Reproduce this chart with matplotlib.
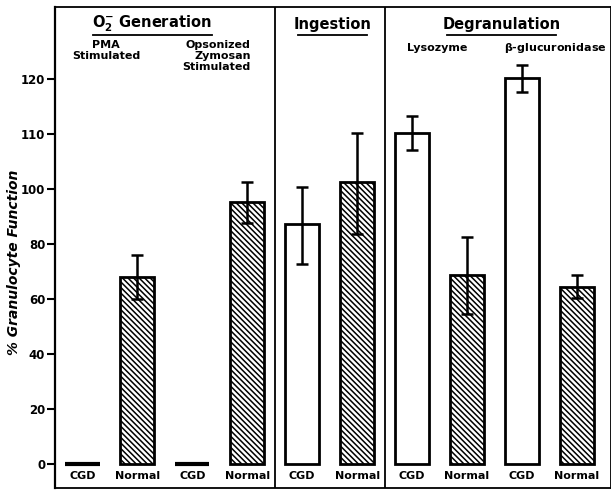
import numpy as np
import matplotlib
matplotlib.use("Agg")
import matplotlib.pyplot as plt
from matplotlib.transforms import blended_transform_factory

# granulocyte function, % of control
labels = ["CGD", "Normal", "CGD", "Normal", "CGD", "Normal",
          "CGD", "Normal", "CGD", "Normal"]
values = [0, 68.0, 0, 95.1, 87.1, 101.2, 110.1, 68.6, 120.1, 64.5]
err_lo = [np.nan, 8.1, np.nan, 7.3, 14.2, 17.6, 3.0, 14.0, 2.5, 4.0]
err_hi = [np.nan, 8.0, np.nan, 6.1, 13.3, 8.9, 3.2, 13.8, 2.5, 4.1]
hatched = [False, True, False, True, False, True, False, True, False, True]
yticks = [0, 20, 40, 60, 80, 100, 110, 120]

plt.rcParams['font.family'] = ['DejaVu Sans']
plt.rcParams['hatch.linewidth'] = 1.1

# axis is stretched 2x above 100
def fwd(y):
    y = np.asarray(y, dtype=float)
    return np.where(y <= 100, y, 100 + 2 * (y - 100))

def inv(v):
    v = np.asarray(v, dtype=float)
    return np.where(v <= 100, v, 100 + (v - 100) / 2)

fig = plt.figure(figsize=(6.11, 4.90), dpi=100)
ax = fig.add_axes([55 / 611, 2 / 490, 556 / 611, 481 / 490])
ax.set_yscale('function', functions=(fwd, inv))

x = np.arange(len(values))
for xi, v, h in zip(x, values, hatched):
    ax.bar(xi, v, width=0.62, facecolor='white', edgecolor='black',
           linewidth=2.0 if v > 0 else 3.0,
           hatch='\\\\\\\\\\\\' if h else None, zorder=2)
ax.errorbar(x, values, yerr=[err_lo, err_hi], fmt='none', ecolor='black',
            elinewidth=1.8, capsize=4, capthick=1.8, zorder=3)

ax.set_xlim(-0.5, 9.62)
ax.set_ylim(-8.76, 133.1)
ax.set_yticks(yticks)
ax.set_yticklabels([str(t) for t in yticks], fontweight='bold', fontsize=8.5)
ax.set_xticks([])
ax.tick_params(axis='y', direction='out', length=6, width=1.5, pad=1)
for sp in ax.spines.values():
    sp.set_linewidth(1.3)
ax.spines['left'].set_linewidth(1.6)

for xs in (3.5, 5.5):
    ax.axvline(xs, color='black', lw=1.3)

ax.set_ylabel("% Granulocyte Function", fontsize=10, fontweight='bold',
              style='italic')
ax.yaxis.set_label_coords(-0.062, 0.47)

trans = blended_transform_factory(ax.transData, ax.transAxes)

def yf(px):
    return (488 - px) / 481

def xd(px):
    return (px - 82.5) / 55

for xi, lab in zip(x, labels):
    ax.text(xi, yf(476), lab, transform=trans, ha='center', va='center',
            fontsize=8, fontweight='bold')

# group headings with underlines
heads = [("O$_\\mathbf{2}^{\\mathbf{-}}$ Generation", 152, 93, 212),
         ("Ingestion", 333, 298, 367),
         ("Degranulation", 502, 447, 557)]
for txt, cx, x0, x1 in heads:
    ax.text(xd(cx), yf(24), txt, transform=trans, ha='center', va='center',
            fontsize=10.5, fontweight='bold')
    ax.plot([xd(x0), xd(x1)], [yf(35), yf(35)], transform=trans,
            color='black', lw=1.3, clip_on=False)

ax.text(xd(106), yf(40), "PMA\nStimulated", transform=trans, ha='center',
        va='top', fontsize=8, fontweight='bold', linespacing=1.15)
ax.text(xd(251), yf(40), "Opsonized\nZymosan\nStimulated", transform=trans,
        ha='right', va='top', fontsize=8, fontweight='bold', linespacing=1.15)
ax.text(xd(438), yf(48), "Lysozyme", transform=trans, ha='center',
        va='center', fontsize=8, fontweight='bold')
ax.text(xd(556), yf(48), "$\\mathbf{\\beta}$-glucuronidase", transform=trans,
        ha='center', va='center', fontsize=8, fontweight='bold')

fig.savefig("out.png", dpi=100)
